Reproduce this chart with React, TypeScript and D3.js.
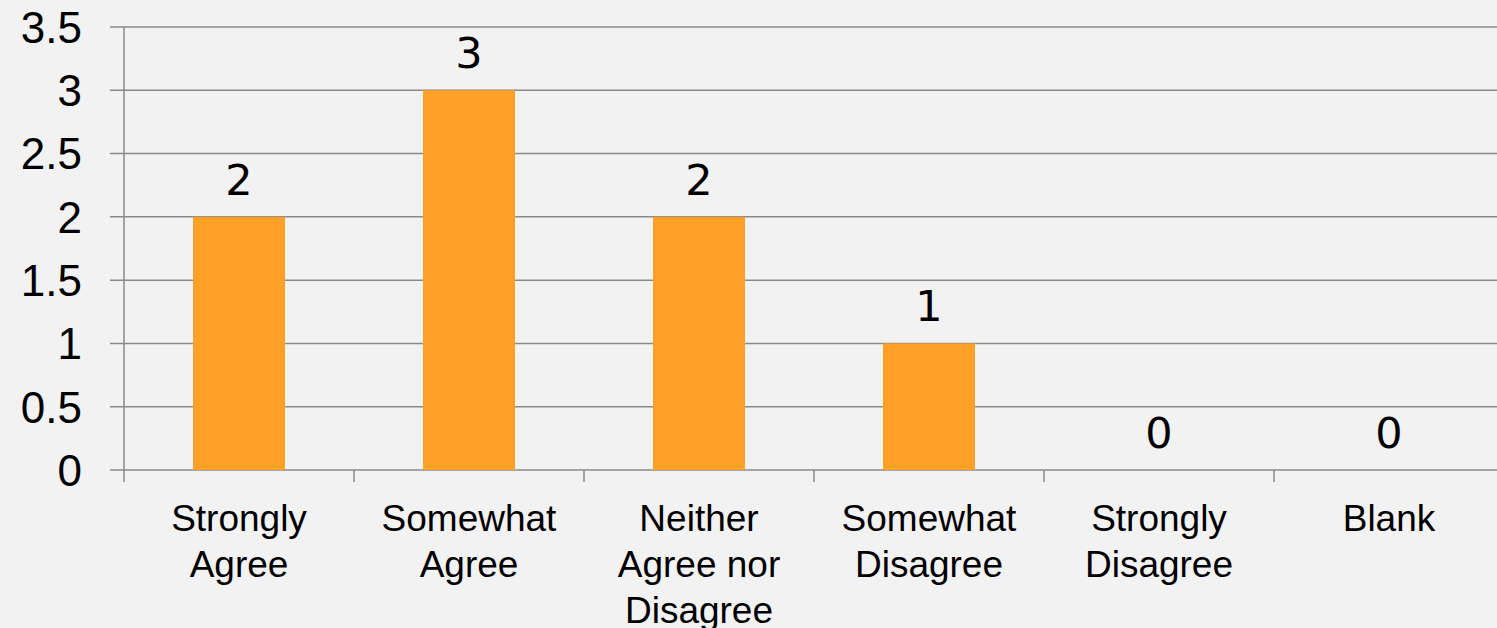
import * as d3 from "d3";

const width = 1497;
const height = 628;
const margin = { top: 27, left: 124, bottom: 158 };

const categories = [
  "Strongly Agree",
  "Somewhat Agree",
  "Neither Agree nor Disagree",
  "Somewhat Disagree",
  "Strongly Disagree",
  "Blank",
];
const labelLines = [
  ["Strongly", "Agree"],
  ["Somewhat", "Agree"],
  ["Neither", "Agree nor", "Disagree"],
  ["Somewhat", "Disagree"],
  ["Strongly", "Disagree"],
  ["Blank"],
];
const counts = [2, 3, 2, 1, 0, 0];
const yTicks = [0, 0.5, 1, 1.5, 2, 2.5, 3, 3.5];

const barColor = "#ffa126";
const gridColor = "#8a8a8a";

const App = () => {
  const step = 230;
  const x = d3
    .scaleBand<string>()
    .domain(categories)
    .range([margin.left, margin.left + step * categories.length])
    .paddingInner(0.6)
    .paddingOuter(0.3);

  const y = d3
    .scaleLinear()
    .domain([0, 3.5])
    .range([height - margin.bottom, margin.top]);

  const y0 = y(0);

  return (
    <svg
      width={width}
      height={height}
      style={{ position: "absolute", left: 0, top: 0, background: "#f2f2f2" }}
    >
      <rect width={width} height={height} fill="#f2f2f2" />
      {/* gridlines */}
      {yTicks.map((t) => (
        <line
          key={t}
          x1={110}
          x2={width}
          y1={y(t)}
          y2={y(t)}
          stroke={gridColor}
          strokeWidth={1.5}
        />
      ))}
      {/* y axis line */}
      <line
        x1={margin.left}
        x2={margin.left}
        y1={y(3.5)}
        y2={y0 + 12}
        stroke={gridColor}
        strokeWidth={1.5}
      />
      {/* x ticks at band boundaries */}
      {categories.map((c, i) => {
        const bx = margin.left + x.step() * (i + 1);
        return (
          <line
            key={c}
            x1={bx}
            x2={bx}
            y1={y0}
            y2={y0 + 12}
            stroke={gridColor}
            strokeWidth={1.5}
          />
        );
      })}
      {/* y tick labels */}
      {yTicks.map((t) => (
        <text
          key={t}
          x={82}
          y={y(t)}
          dy="0.36em"
          textAnchor="end"
          fontFamily="'Liberation Sans', Arial, sans-serif"
          fontSize={44}
          fill="#000"
        >
          {t}
        </text>
      ))}
      {/* bars */}
      {categories.map((c, i) => (
        <rect
          key={c}
          x={x(c)}
          y={y(counts[i])}
          width={x.bandwidth()}
          height={y0 - y(counts[i])}
          fill={barColor}
        />
      ))}
      {/* value labels */}
      {categories.map((c, i) => (
        <text
          key={c}
          x={(x(c) ?? 0) + x.bandwidth() / 2}
          y={y(counts[i]) - 22}
          textAnchor="middle"
          fontFamily="'DejaVu Sans', sans-serif"
          fontSize={43}
          fontWeight={500}
          fill="#000"
        >
          {counts[i]}
        </text>
      ))}
      {/* category labels */}
      {categories.map((c, i) => (
        <text
          key={c}
          x={(x(c) ?? 0) + x.bandwidth() / 2}
          y={531}
          textAnchor="middle"
          fontFamily="'Liberation Sans', Arial, sans-serif"
          fontSize={37}
          fill="#000"
        >
          {labelLines[i].map((l, j) => (
            <tspan key={j} x={(x(c) ?? 0) + x.bandwidth() / 2} dy={j === 0 ? 0 : 46}>
              {l}
            </tspan>
          ))}
        </text>
      ))}
    </svg>
  );
};

export default App;
